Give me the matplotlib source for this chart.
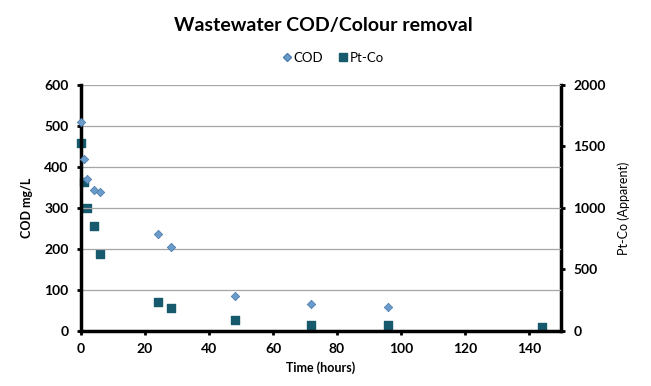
import matplotlib
matplotlib.use('Agg')
import matplotlib.pyplot as plt
from matplotlib.lines import Line2D

plt.rcParams['font.family'] = ['Lato', 'DejaVu Sans']

# data
cod_hours = [0, 1, 2, 4, 6, 24, 28, 48, 72, 96]
cod = [510, 420, 371, 344, 339, 236, 205, 85, 65, 58]

ptco_hours = [0, 1, 2, 4, 6, 24, 28, 48, 72, 96, 144]
ptco = [1530, 1210, 1000, 850, 625, 233, 184, 87, 45, 45, 30]

fig = plt.figure(figsize=(6.51, 3.86), dpi=100)
ax = fig.add_axes([0.1244, 0.1425, 0.7374, 0.6373])
ax2 = ax.twinx()

ax.scatter(cod_hours, cod, marker='D', s=18, color='#6a9ccb',
           edgecolors='#4f7fae', linewidths=0.6, zorder=3, clip_on=False)
ax2.scatter(ptco_hours, ptco, marker='s', s=40, color='#175a6e', zorder=3,
            clip_on=False)

ax.set_xlim(0, 150)
ax.set_ylim(0, 600)
ax2.set_ylim(0, 2000)
ax.set_xticks(range(0, 141, 20))
ax.set_yticks(range(0, 601, 100))
ax2.set_yticks(range(0, 2001, 500))

ax.yaxis.grid(True, color='#a6a6a6', linewidth=0.9)
ax.set_axisbelow(True)
ax.set_zorder(ax2.get_zorder() + 1)
ax.patch.set_visible(False)

for a in (ax, ax2):
    for s in a.spines.values():
        s.set_visible(False)
    a.tick_params(length=3, width=2, labelsize=10, pad=6)
    for lab in a.get_xticklabels() + a.get_yticklabels():
        lab.set_fontweight('bold')
ax.spines['left'].set_visible(True)
ax.spines['left'].set_linewidth(2.5)
ax.spines['bottom'].set_visible(True)
ax.spines['bottom'].set_linewidth(2.5)
ax2.spines['right'].set_visible(True)
ax2.spines['right'].set_linewidth(2.5)

ax.set_xlabel('Time (hours)', fontsize=9, fontweight='bold', labelpad=4)
ax.set_ylabel('COD mg/L', fontsize=9, fontweight='bold', labelpad=8)
ax2.set_ylabel('Pt-Co (Apparent)', fontsize=9, labelpad=8)

fig.text(0.497, 0.935, 'Wastewater COD/Colour removal', ha='center', va='center',
         fontsize=14, fontweight='bold')

handles = [
    Line2D([], [], marker='D', linestyle='none', markersize=4.5, color='#6a9ccb',
           markeredgecolor='#4f7fae', label='COD'),
    Line2D([], [], marker='s', linestyle='none', markersize=6, color='#175a6e',
           label='Pt-Co'),
]
fig.legend(handles=handles, loc='center', bbox_to_anchor=(0.51, 0.85), ncol=2,
           frameon=False, fontsize=9.5, handletextpad=0.0, columnspacing=1.0,
           handlelength=1.0)

fig.savefig('out.png', dpi=100)
